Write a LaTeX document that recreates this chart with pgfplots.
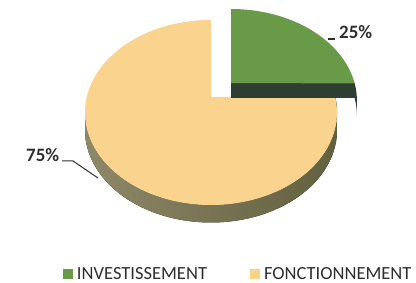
\documentclass[border=0pt]{standalone}
\usepackage{pgfplots}
\usepackage{pgfplotstable}
\pgfplotsset{compat=1.18}
\usepackage{fontspec}
\setmainfont{Carlito}
\definecolor{grn}{HTML}{689A47}
\definecolor{grnside}{HTML}{2F3E33}
\definecolor{ylw}{HTML}{FAD38E}
\definecolor{ylwleg}{HTML}{F8D487}
\definecolor{sideL}{HTML}{8E8868}
\definecolor{sideM}{HTML}{4C4D33}
\definecolor{sideR}{HTML}{5F5E3D}
\definecolor{txt}{HTML}{2E2E2E}
\pgfplotstableread{
label value
INVESTISSEMENT 25
FONCTIONNEMENT 75
}\piedata
\begin{document}
\begin{tikzpicture}
\pgfplotstablegetelem{0}{value}\of\piedata \let\vInv\pgfplotsretval
\pgfplotstablegetelem{1}{value}\of\piedata \let\vFon\pgfplotsretval
\pgfmathsetmacro\aInv{360*(\vInv/(\vInv+\vFon))}
\pgfmathsetmacro\aFon{360*(\vFon/(\vInv+\vFon))}
\pgfmathsetmacro\persp{11}
\pgfmathsetmacro\gEnd{90-\aInv+\persp}
\pgfmathsetmacro\yEnd{90+\aFon+\persp-1}
\useasboundingbox (0,0) rectangle (416bp,283bp);
\begin{axis}[
  at={(0,0)}, anchor=south west,
  width=416bp, height=283bp, scale only axis,
  xmin=0, xmax=416, ymin=0, ymax=283,
  hide axis, clip=false,
  legend columns=2,
  legend style={draw=none, fill=none, inner sep=0pt, outer sep=0pt,
    at={(axis cs:63,2)}, anchor=south west,
    font=\fontsize{18.6}{18.6}\selectfont\color{txt},
    nodes={inner sep=0pt},
    /tikz/every odd column/.append style={column sep=4bp},
    /tikz/every even column/.append style={column sep=43bp}},
  legend image code/.code={\fill[#1] (0bp,-5bp) rectangle (10bp,5bp);},
]
\addlegendimage{fill=grn, draw=none}
\addlegendentry{INVESTISSEMENT}
\addlegendimage{fill=ylwleg, draw=none}
\addlegendentry{FONCTIONNEMENT}

% yellow slice (FONCTIONNEMENT): side then top face
\fill[left color=sideL, middle color=sideM, right color=sideR]
  (axis cs:85,170.5) arc[start angle=180, end angle=\yEnd, x radius=126bp, y radius=92.5bp]
  -- ++(0,-17.5bp) arc[start angle=\yEnd, end angle=180, x radius=126bp, y radius=92.5bp] -- cycle;
\fill[ylw] (axis cs:211,186) -- (axis cs:211,263)
  arc[start angle=90, end angle=\yEnd, x radius=126bp, y radius=92.5bp] -- cycle;

% green slice (INVESTISSEMENT), exploded
\fill[grnside] (axis cs:231,200) -- (axis cs:354.6,200)
  arc[start angle=\gEnd, end angle=0, x radius=126bp, y radius=92bp]
  -- ++(0,-15bp) arc[start angle=0, end angle=\gEnd, x radius=126bp, y radius=92bp]
  -- (axis cs:231,185) -- cycle;
\fill[grn] (axis cs:231,200) -- (axis cs:231,274)
  arc[start angle=90, end angle=\gEnd, x radius=126bp, y radius=92bp] -- cycle;

% labels
\draw[txt, line width=1.2bp] (axis cs:328,244) -- (axis cs:335,244);
\node[anchor=base west, inner sep=0pt, text=txt, font=\fontsize{19}{19}\selectfont\bfseries]
  at (axis cs:339,244) {\vInv\%};
\draw[txt, line width=1bp] (axis cs:62,122) -- (axis cs:73,122) -- (axis cs:98,105);
\node[anchor=base west, inner sep=0pt, text=txt, font=\fontsize{19}{19}\selectfont\bfseries]
  at (axis cs:26,121) {\vFon\%};
\end{axis}
\end{tikzpicture}
\end{document}
